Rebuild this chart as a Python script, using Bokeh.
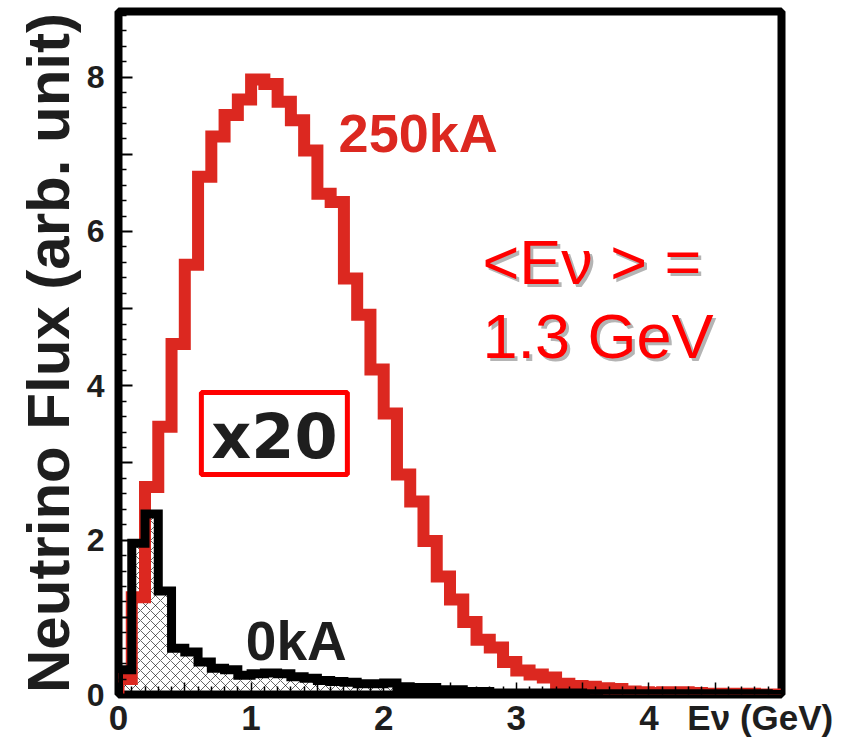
from bokeh.plotting import figure
from bokeh.models import Range1d, FixedTicker, Label, BoxAnnotation, LinearAxis
from bokeh.embed import file_html
from bokeh.resources import INLINE

# ---------------- data ----------------
bin_edges = [round(0.1 * i, 1) for i in range(51)]  # 0.0 ... 5.0 GeV, 0.1 GeV bins

flux_250kA = [0.20, 1.26, 2.69, 3.47, 4.54, 5.57, 6.71, 7.23, 7.51, 7.71,
              7.97, 7.91, 7.68, 7.44, 7.05, 6.49, 6.38, 5.39, 4.92, 4.21,
              3.64, 2.85, 2.50, 1.99, 1.53, 1.23, 0.94, 0.71, 0.61, 0.42,
              0.31, 0.26, 0.22, 0.14, 0.11, 0.10, 0.08, 0.07, 0.04, 0.03,
              0.02, 0.03, 0.03, 0.02, 0.01, 0.01, 0.01, 0.01, 0.00, 0.00]

flux_0kA = [0.32, 1.96, 2.34, 1.34, 0.60, 0.55, 0.42, 0.34, 0.32, 0.25,
            0.27, 0.28, 0.27, 0.23, 0.21, 0.18, 0.17, 0.16, 0.14, 0.14,
            0.15, 0.10, 0.09, 0.09, 0.06, 0.06, 0.04, 0.04, 0.02, 0.02,
            0.02, 0.02, 0.02, 0.02, 0.02, 0.01, 0.01, 0.01, 0.01, 0.01,
            0.01, 0.01, 0.01, 0.01, 0.01, 0.01, 0.01, 0.01, 0.01, 0.00]

x_half_ticks = [0.0, 0.5, 1.0, 1.5, 2.0, 2.5, 3.0, 3.5, 4.0, 4.5, 5.0]
x_label_ticks = [0, 1, 2, 3, 4, 4.84]
x_tick_labels = ["0", "1", "2", "3", "4", "Eν (GeV)"]
y_major_ticks = [0, 1, 2, 3, 4, 5, 6, 7, 8]
y_tick_labels = ["0", "", "2", "", "4", "", "6", "", "8"]

RED = "#dc2820"
BLACK = "#000000"
TXT = "#1e1e1e"


def step_path(edges, vals):
    xs, ys = [edges[0]], [0.0]
    for i, v in enumerate(vals):
        xs += [edges[i], edges[i + 1]]
        ys += [v, v]
    xs.append(edges[-1])
    ys.append(0.0)
    return xs, ys


p = figure(width=852, height=745, output_backend="svg", toolbar_location=None,
           x_range=Range1d(0, 5), y_range=Range1d(0, 8.85), x_axis_location=None,
           min_border_left=118, min_border_right=71, min_border_top=11,
           min_border_bottom=51)
p.background_fill_color = "white"
p.border_fill_color = "white"
p.grid.visible = False
p.outline_line_color = "black"
p.outline_line_width = 8

# hatched area under the 0kA histogram
p.quad(left=bin_edges[:-1], right=bin_edges[1:], bottom=0, top=flux_0kA,
       fill_color="white", fill_alpha=0, line_color=None,
       hatch_pattern="x", hatch_color="black", hatch_scale=10, hatch_weight=0.6)

rx, ry = step_path(bin_edges, flux_250kA)
p.line(rx, ry, line_color=RED, line_width=12, line_join="miter", line_cap="butt")

bx, by = step_path(bin_edges, flux_0kA)
p.line(bx, by, line_color=BLACK, line_width=9, line_join="miter", line_cap="butt")


# ---- x axis: small ticks (0.1), longer ticks (0.5), then the labels ----
def tick_axis(minor, length):
    return LinearAxis(ticker=FixedTicker(ticks=[], minor_ticks=minor),
                      axis_line_color=None, major_tick_line_color=None,
                      major_tick_in=0, major_tick_out=0, major_label_standoff=0,
                      minor_tick_in=length, minor_tick_out=0,
                      minor_tick_line_color="black", minor_tick_line_width=1.5)


p.add_layout(tick_axis([e for e in bin_edges if e not in x_half_ticks], 8), "below")
p.add_layout(tick_axis(x_half_ticks, 12), "below")

xlab = LinearAxis(ticker=FixedTicker(ticks=x_label_ticks, minor_ticks=[]),
                  major_label_overrides={t: l for t, l in zip(x_label_ticks, x_tick_labels)},
                  axis_line_color=None, major_tick_line_color=None,
                  minor_tick_line_color=None, major_tick_in=0, major_tick_out=0,
                  minor_tick_in=0, minor_tick_out=0,
                  major_label_text_font="Liberation Sans",
                  major_label_text_font_style="bold",
                  major_label_text_font_size="35px",
                  major_label_text_color=TXT, major_label_standoff=3)
p.add_layout(xlab, "below")

# ---- y axis ----
y_minor = [round(0.2 * i, 1) for i in range(45)]
p.yaxis.ticker = FixedTicker(ticks=y_major_ticks,
                             minor_ticks=[m for m in y_minor if m not in y_major_ticks])
p.yaxis.major_label_overrides = {t: l for t, l in zip(y_major_ticks, y_tick_labels)}
p.yaxis.axis_line_color = None
p.yaxis.major_tick_out = 0
p.yaxis.minor_tick_out = 0
p.yaxis.major_tick_in = 14
p.yaxis.minor_tick_in = 8
p.yaxis.major_tick_line_color = "black"
p.yaxis.minor_tick_line_color = "black"
p.yaxis.major_tick_line_width = 2
p.yaxis.minor_tick_line_width = 1.5
p.yaxis.major_label_text_font = "Liberation Sans"
p.yaxis.major_label_text_font_style = "bold"
p.yaxis.major_label_text_font_size = "32px"
p.yaxis.major_label_text_color = TXT
p.yaxis.major_label_standoff = 14
p.yaxis.major_label_orientation = "horizontal"
p.yaxis.axis_label = "Neutrino Flux (arb. unit)"
p.yaxis.axis_label_text_font = "Liberation Sans"
p.yaxis.axis_label_text_font_style = "bold"
p.yaxis.axis_label_text_font_size = "60px"
p.yaxis.axis_label_text_color = TXT
p.yaxis.axis_label_standoff = 2

# annotations
p.add_layout(Label(x=1.66, y=7.28, text="250kA", text_font="Liberation Sans",
                   text_font_style="bold", text_font_size="54px", text_color=RED,
                   text_baseline="alphabetic"))
p.add_layout(Label(x=0.96, y=0.69, text="0kA", text_font="Liberation Sans",
                   text_font_style="bold", text_font_size="55px", text_color=TXT,
                   text_baseline="alphabetic"))

p.add_layout(BoxAnnotation(left=0.625, right=1.726, bottom=2.85, top=3.912,
                           fill_color=None, fill_alpha=0, line_color="#ff0000",
                           line_alpha=1.0, line_width=5))
p.add_layout(Label(x=1.176, y=3.34, text="x20", text_font="DejaVu Sans",
                   text_font_style="bold", text_font_size="62px", text_color=TXT,
                   text_align="center", text_baseline="alphabetic"))

for txt, yy in (("<Eν > =", 5.61), ("1.3 GeV", 4.64)):
    p.add_layout(Label(x=2.745, y=yy, x_offset=3, y_offset=-3, text=txt,
                       text_font="Liberation Sans", text_font_size="63px",
                       text_color="#b4b4b4", text_baseline="alphabetic"))
    p.add_layout(Label(x=2.745, y=yy, text=txt, text_font="Liberation Sans",
                       text_font_size="63px", text_color="#ff0000",
                       text_baseline="alphabetic"))

open("out.html", "w").write(file_html(p, INLINE))
